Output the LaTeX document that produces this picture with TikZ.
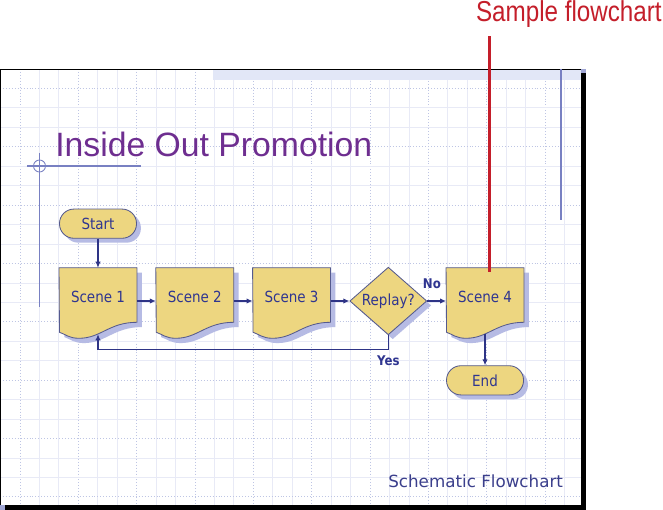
\documentclass[tikz,border=0pt]{standalone}
\usepackage{fontspec}
\setmainfont{DejaVu Sans}
\newfontfamily\nodefont[FakeStretch=0.88]{DejaVu Sans}
\newfontfamily\titlefont{Liberation Sans}
\newfontfamily\notefont[FakeStretch=0.84]{Liberation Sans}
\usetikzlibrary{positioning,calc,shapes.geometric,shadows,arrows.meta}
\definecolor{Sand}{HTML}{EDD680}
\definecolor{Ink}{HTML}{2F3590}
\definecolor{Edge}{HTML}{555A8E}
\definecolor{Shade}{HTML}{B6BBE4}
\definecolor{Wire}{HTML}{2E3486}
\definecolor{GridLine}{HTML}{E8EAF6}
\definecolor{GridDot}{HTML}{BEC5E4}
\definecolor{Guide}{HTML}{7880C2}
\definecolor{Plum}{HTML}{6E2E90}
\definecolor{Signal}{HTML}{C41E2A}
\definecolor{Band}{HTML}{E2E7F7}
\definecolor{Footer}{HTML}{3B3F8C}
\pgfdeclarelayer{grid}
\pgfdeclarelayer{shapes}
\pgfsetlayers{grid,shapes,main}
\newcommand\scenepath[1]{(#1.north west) -- (#1.north east) -- ($(#1.south east)+(0,-12)$)
  .. controls +(-28,0) and +(22,0) .. ++(-58,16) .. controls +(-10,0) and +(6,2) .. ++(-19.5,-6) -- cycle}
\tikzset{
  flow text/.style={font=\nodefont\fontsize{10.9}{13}\selectfont,text=Ink},
  flow shadow/.style={drop shadow={shadow xshift=0.11cm,shadow yshift=-0.11cm,fill=Shade,opacity=1}},
  terminal/.style={flow text,draw=Edge,line width=0.6pt,fill=Sand,rounded corners=0.36cm,
    minimum width=1.925cm,minimum height=0.73cm,inner sep=0pt,flow shadow},
  scene/.style={flow text,minimum width=1.935cm,minimum height=1.65cm,inner sep=0pt,
    text height=0.32cm,text depth=0.245cm},
  decision/.style={flow text,diamond,draw=Edge,line width=0.6pt,fill=Sand,
    minimum width=1.925cm,minimum height=1.675cm,inner sep=0pt,flow shadow},
  scene outline/.style={fill=Sand,draw=Edge,line width=0.6pt},
  scene shadow/.style={fill=Shade,transform canvas={shift={(0.12cm,-0.12cm)}}},
  flow/.style={draw=Wire,line width=0.8pt,-{Latex[length=1.5mm,width=1.35mm]}},
  branch label/.style={font=\nodefont\bfseries\fontsize{9.5}{11}\selectfont,text=Ink,inner sep=0pt},
  grid solid/.style={GridLine,line width=0.6pt},
  grid dotted/.style={GridDot,line width=0.6pt,dash pattern=on 0.7pt off 1.4pt}
}

\begin{document}
\begin{tikzpicture}[x=0.025cm,y=-0.025cm,node distance=0.47cm]
  \useasboundingbox (0,0) rectangle (663,510);
  \begin{pgfonlayer}{grid}
    \fill[white] (0,69) rectangle (581,505);
    \foreach \k in {2,3,5,6,8,9,11,12,14,15,17,18,20,21,23,24,26,27,29}
      \draw[grid solid] ({0.5+19.45*\k},69) -- ({0.5+19.45*\k},505);
    \foreach \k in {1,4,...,28}
      \draw[grid dotted] ({0.5+19.45*\k},69) -- ({0.5+19.45*\k},505);
    \foreach \k in {2,3,5,6,8,9,11,12,14,15,17,18,20,21}
      \draw[grid solid] (0,{69+19.45*\k}) -- (581,{69+19.45*\k});
    \foreach \k in {1,4,...,22}
      \draw[grid dotted] (0,{69+19.45*\k}) -- (581,{69+19.45*\k});
    \fill[Band] (213,69.5) rectangle (581,80);
    \draw[black,line width=0.7pt] (0,505) -- (0,69) -- (581,69);
    \fill[black] (581,73) rectangle (586,510);
    \fill[black] (5,505) rectangle (586,510);
    \fill[Guide!70] (581,69) rectangle (586,73);
    \fill[Guide!70] (0,505) rectangle (5,510);
    \draw[Guide,line width=0.8pt] (561,69) -- (561,220);
    \draw[Guide,line width=0.8pt] (39.5,153) -- (39.5,307);
    \draw[Guide,line width=0.8pt] (27,166) -- (141,166);
    \draw[Guide,line width=0.6pt] (39.5,166) circle[radius=0.15cm];
  \end{pgfonlayer}

  \node[anchor=base west,inner sep=0pt,font=\titlefont\fontsize{24}{28}\selectfont,text=Plum] (title) at (55,157) {Inside Out Promotion};

  \node[scene] (s1) at (98,301) {Scene 1};
  \node[scene,right=of s1] (s2) {Scene 2};
  \node[scene,right=of s2] (s3) {Scene 3};
  \node[decision,right=of s3] (rep) {Replay?};
  \node[scene,right=of rep] (s4) {Scene 4};
  \node[terminal,above=0.725cm of s1] (start) {Start};
  \node[terminal,below=0.775cm of s4] (end) {End};

  \begin{pgfonlayer}{shapes}
    \foreach \n in {s1,s2,s3,s4}{
      \fill[scene shadow] \scenepath{\n};
      \filldraw[scene outline] \scenepath{\n};
    }
  \end{pgfonlayer}

  \draw[flow] (start) -- (s1);
  \draw[flow] (s1) -- (s2);
  \draw[flow] (s2) -- (s3);
  \draw[flow] (s3) -- (rep);
  \draw[flow] (rep) -- node[branch label,above=0.3cm,pos=0.25] {No} (s4);
  \draw[flow] (rep.south) -- ++(0,14) node[branch label,below=0.14cm] {Yes} -| (s1.south);
  \draw[flow] (s4) -- (end);

  \node[anchor=base east,inner sep=0pt,font=\notefont\fontsize{20.5}{24}\selectfont,text=Signal] (callout) at (662,22) {Sample flowchart};
  \coordinate (pin) at ($(s4.north)+(4,4)$);
  \coordinate (pintop) at (callout.south -| pin);
  \draw[Signal,line width=2.1pt] ($(pintop)+(0,8)$) -- (pin);

  \node[anchor=base west,inner sep=0pt,font=\fontsize{11.9}{14}\selectfont,text=Footer] (footer) at (388,487) {Schematic Flowchart};
\end{tikzpicture}
\end{document}
